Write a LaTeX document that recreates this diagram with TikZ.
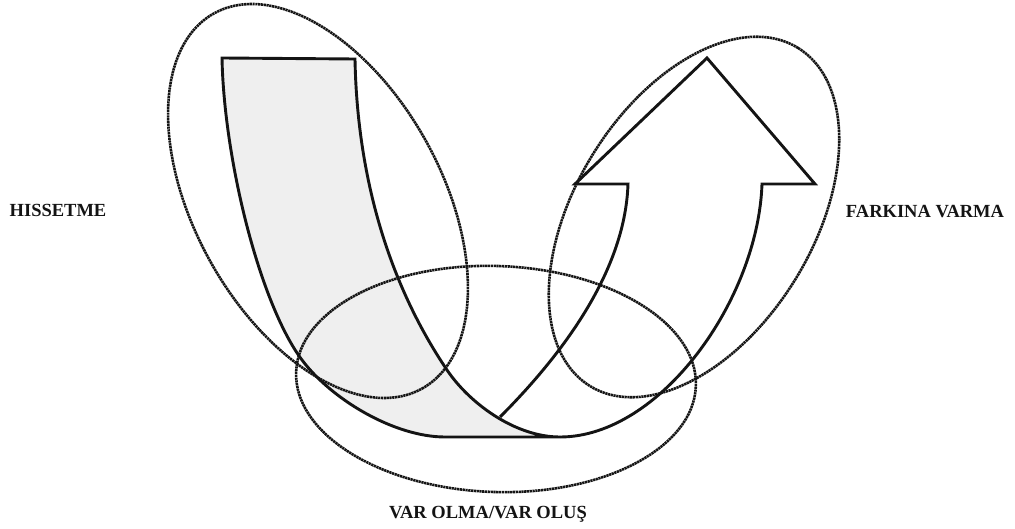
\documentclass[tikz,border=0pt]{standalone}
\usepackage{fontspec}
\setmainfont{Liberation Serif}
\usetikzlibrary{shapes.geometric}
\definecolor{bandgray}{RGB}{239,239,239}
\definecolor{ink}{RGB}{20,20,20}
\begin{document}
\begin{tikzpicture}[x=1pt,y=-1pt,
  ell/.style={draw=ink, ellipse, inner sep=0pt, outer sep=0pt, line width=2.6pt, dash pattern=on 2.2pt off 0.6pt},
  bandline/.style={draw=ink, line width=2.9pt, line join=miter},
  lbl/.style={font=\fontsize{18.5}{20}\selectfont\bfseries, inner sep=0pt, anchor=base, text=ink}]
\useasboundingbox (0,0) rectangle (1015,529);
% shaded band
\path[bandline, fill=bandgray]
  (222,58) .. controls (224,160) and (260,304) .. (302,360)
           .. controls (332,400) and (395,437) .. (445,437)
  -- (560,437)
           .. controls (515,437) and (469.4,403.2) .. (447,370)
           .. controls (385.4,278.7) and (357,170) .. (355,59)
  -- cycle;
% arrow
\path[bandline]
  (500,417) .. controls (556.6,360.4) and (625,275) .. (628,184)
  -- (575,184) -- (707,58) -- (815,184) -- (762,184)
  .. controls (758,300) and (660,437) .. (560,437);
% ellipses
\node[ell, minimum width=429pt, minimum height=247pt, rotate=-61] (hiss) at (318,201) {};
\node[ell, minimum width=397pt, minimum height=238pt, rotate=58.4] (fark) at (694,217) {};
\node[ell, minimum width=400pt, minimum height=226pt, rotate=-2] (var) at (496,379) {};
% labels
\node[lbl] (l1) at (58,217) {HISSETME};
\node[lbl] (l2) at (925,218) {FARKINA VARMA};
\node[lbl] (l3) at (488,518) {VAR OLMA/VAR OLUŞ};
\end{tikzpicture}
\end{document}
